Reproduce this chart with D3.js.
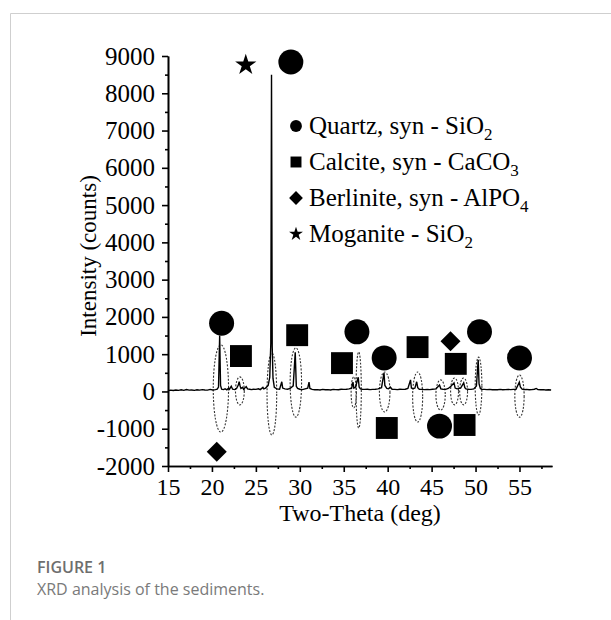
<!DOCTYPE html>
<html lang="en">
<head>
    <meta charset="UTF-8">
    <title>XRD analysis of the sediments</title>
    <script src="https://cdn.jsdelivr.net/npm/d3@7/dist/d3.min.js"></script>
    <style>
        html, body {
            margin: 0;
            background: #fff;
        }

        .axis text {
            font-family: "Liberation Serif", "Times New Roman", serif;
            fill: #000;
        }

        .axis path, .axis line {
            stroke: #000;
            stroke-width: 1.6px;
        }

        .trace {
            fill: none;
            stroke: #000;
            stroke-width: 1.4px;
        }

        .ring {
            fill: none;
            stroke: #333;
            stroke-width: 1.1px;
            stroke-dasharray: 2, 1.5;
        }
    </style>
</head>

<body>
<script>

    // diffractogram, two-theta (deg) vs counts
    var trace = [
        [15.0, 20], [15.3, 35], [15.6, 25], [15.9, 40], [16.2, 30], [16.5, 45], [16.8, 30], [17.1, 50],
        [17.4, 35], [17.7, 40], [18.0, 30], [18.3, 45], [18.6, 35], [18.9, 50], [19.2, 40], [19.5, 35],
        [19.8, 55], [20.1, 40], [20.4, 50], [20.6, 60], [20.75, 120], [20.88, 1500], [20.98, 160], [21.1, 60],
        [21.3, 50], [21.5, 70], [21.7, 45], [21.9, 90], [22.0, 60], [22.2, 140], [22.35, 60], [22.6, 50],
        [22.8, 80], [23.0, 170], [23.1, 260], [23.2, 150], [23.3, 80], [23.5, 110], [23.6, 60], [23.9, 130],
        [24.05, 70], [24.3, 60], [24.5, 50], [24.7, 60], [25.0, 55], [25.3, 70], [25.5, 50], [25.8, 110],
        [25.9, 70], [26.1, 90], [26.4, 160], [26.58, 380], [26.7, 1300], [26.78, 8500], [26.86, 1200], [26.95, 350],
        [27.1, 110], [27.4, 70], [27.7, 60], [27.95, 260], [28.05, 90], [28.3, 70], [28.6, 60], [28.9, 80],
        [29.25, 150], [29.48, 1050], [29.6, 140], [29.75, 80], [30.0, 60], [30.3, 50], [30.6, 70], [30.9, 90],
        [31.05, 250], [31.15, 80], [31.4, 55], [31.7, 45], [32.0, 50], [32.3, 40], [32.6, 55], [32.9, 45],
        [33.2, 50], [33.5, 40], [33.8, 55], [34.1, 50], [34.4, 45], [34.7, 60], [35.0, 55], [35.3, 60],
        [35.6, 70], [35.9, 90], [36.05, 250], [36.15, 90], [36.35, 120], [36.55, 300], [36.65, 380], [36.75, 120],
        [36.9, 70], [37.1, 60], [37.4, 55], [37.7, 60], [38.0, 50], [38.3, 55], [38.6, 60], [38.9, 70],
        [39.3, 100], [39.58, 500], [39.68, 160], [39.9, 80], [40.1, 70], [40.3, 120], [40.5, 60], [40.8, 55],
        [41.1, 50], [41.4, 60], [41.7, 55], [42.0, 60], [42.3, 80], [42.6, 310], [42.7, 90], [42.9, 70],
        [43.1, 90], [43.3, 260], [43.42, 100], [43.6, 60], [43.9, 55], [44.2, 50], [44.5, 55], [44.8, 50],
        [45.1, 60], [45.5, 70], [45.9, 170], [46.05, 70], [46.3, 60], [46.6, 55], [46.9, 80], [47.2, 140],
        [47.55, 230], [47.68, 90], [47.9, 70], [48.3, 90], [48.65, 230], [48.78, 100], [48.9, 70], [49.2, 60],
        [49.5, 55], [49.8, 70], [50.1, 150], [50.3, 850], [50.4, 200], [50.55, 80], [50.7, 60], [51.0, 55],
        [51.3, 50], [51.6, 55], [51.9, 45], [52.2, 50], [52.5, 45], [52.8, 55], [53.1, 45], [53.4, 50],
        [53.7, 55], [54.0, 50], [54.3, 55], [54.6, 60], [54.98, 250], [55.1, 120], [55.3, 60], [55.5, 50],
        [55.8, 55], [56.1, 45], [56.4, 50], [56.7, 60], [56.9, 80], [57.1, 50], [57.4, 45], [57.7, 50],
        [58.0, 40], [58.3, 45], [58.6, 40]
    ];

    // peak labels placed on the plot: [two-theta, counts]
    var quartzPts = [[28.98, 8840], [21.1, 1830], [36.5, 1600], [39.6, 900], [50.45, 1600], [55.0, 900], [45.9, -930]];
    var calcitePts = [[23.3, 950], [29.7, 1510], [34.8, 760], [43.4, 1190], [47.75, 740], [39.9, -980], [48.75, -900]];
    var berlinitePts = [[47.15, 1350], [20.55, -1620]];
    var moganitePts = [[23.85, 8760]];

    // dotted rings round the peaks: [centre deg, half width deg, top counts, bottom counts]
    var rings = [
        [21.02, 0.87, 1250, -1090], [23.18, 0.5, 390, -360], [26.82, 0.55, 1030, -1170],
        [29.55, 0.65, 1170, -690], [36.14, 0.3, 390, -440], [36.7, 0.3, 1060, -980],
        [39.66, 0.6, 520, -550], [43.41, 0.57, 520, -820], [46.02, 0.53, 310, -500],
        [47.61, 0.45, 360, -360], [48.64, 0.45, 360, -360], [50.34, 0.38, 920, -630],
        [55.0, 0.53, 440, -690]
    ];

    var xTicks = [15, 20, 25, 30, 35, 40, 45, 50, 55];
    var yTicks = [-2000, -1000, 0, 1000, 2000, 3000, 4000, 5000, 6000, 7000, 8000, 9000];

    var legendNames = ["Quartz, syn - SiO", "Calcite, syn - CaCO", "Berlinite, syn - AlPO", "Moganite - SiO"];
    var legendSubs = ["2", "3", "4", "2"];

    var width = 611, height = 620;

    var svg = d3.select('body').append('svg')
        .attr('width', width).attr('height', height);

    // card border
    svg.append('path')
        .attr('d', 'M10.5,' + height + 'V13.5H' + width)
        .attr('fill', 'none').attr('stroke', '#cfcfcf').attr('stroke-width', 1);

    var x = d3.scaleLinear().domain([15, 58.7]).range([168, 552]);
    var y = d3.scaleLinear().domain([-2000, 9000]).range([466, 56]);

    var plain = function (d) { return String(d); };

    // minor ticks first, then the labelled ones
    var xMinor = d3.range(17.5, 58.7, 5);
    var yMinor = d3.range(-1500, 9000, 1000);

    svg.append('g').attr('class', 'axis')
        .attr('transform', 'translate(0,' + y(-2000) + ')')
        .call(d3.axisBottom(x).tickValues(xMinor).tickSize(3).tickFormat('').tickSizeOuter(0));
    svg.append('g').attr('class', 'axis')
        .attr('transform', 'translate(' + x(15) + ',0)')
        .call(d3.axisLeft(y).tickValues(yMinor).tickSize(3).tickFormat('').tickSizeOuter(0));

    var xAxis = svg.append('g').attr('class', 'axis')
        .attr('transform', 'translate(0,' + y(-2000) + ')')
        .call(d3.axisBottom(x).tickValues(xTicks).tickFormat(plain).tickSize(6).tickPadding(6).tickSizeOuter(0));
    xAxis.selectAll('text').style('font-size', '24px');

    var yAxis = svg.append('g').attr('class', 'axis')
        .attr('transform', 'translate(' + x(15) + ',0)')
        .call(d3.axisLeft(y).tickValues(yTicks).tickFormat(plain).tickSize(6).tickPadding(7).tickSizeOuter(0));
    yAxis.selectAll('text').style('font-size', '25px');

    svg.append('text')
        .attr('x', (x(15) + x(58.7)) / 2).attr('y', 521)
        .attr('text-anchor', 'middle')
        .style('font-family', '"Liberation Serif", serif').style('font-size', '24px')
        .text('Two-Theta (deg)');

    svg.append('text')
        .attr('transform', 'translate(96,' + 256 + ') rotate(-90)')
        .attr('text-anchor', 'middle')
        .style('font-family', '"Liberation Serif", serif').style('font-size', '23px')
        .text('Intensity (counts)');

    // dotted rings
    svg.selectAll('ellipse.ring')
        .data(rings)
        .enter().append('ellipse')
        .attr('class', 'ring')
        .attr('cx', function (d) { return x(d[0]); })
        .attr('cy', function (d) { return y((d[2] + d[3]) / 2); })
        .attr('rx', function (d) { return x(d[0] + d[1]) - x(d[0]); })
        .attr('ry', function (d) { return (y(d[3]) - y(d[2])) / 2; });

    var line = d3.line()
        .x(function (d) { return x(d[0]); })
        .y(function (d) { return y(d[1]); });

    svg.append('path').attr('class', 'trace').attr('d', line(trace));

    function drawMarks(pts, type, size, rot) {
        svg.selectAll(null)
            .data(pts)
            .enter().append('path')
            .attr('d', d3.symbol().type(type).size(size))
            .attr('fill', '#000')
            .attr('transform', function (d) {
                return 'translate(' + x(d[0]) + ',' + y(d[1]) + ')' + (rot ? ' rotate(' + rot + ')' : '');
            });
    }

    drawMarks(quartzPts, d3.symbolCircle, 490);
    drawMarks(calcitePts, d3.symbolSquare, 480);
    drawMarks(berlinitePts, d3.symbolSquare, 200, 45);
    drawMarks(moganitePts, d3.symbolStar, 140);

    // legend
    var legendTypes = [d3.symbolCircle, d3.symbolSquare, d3.symbolSquare, d3.symbolStar];
    var legendSizes = [110, 120, 95, 60];
    var legendRot = [0, 0, 45, 0];
    var legendBase = [134, 170, 206, 242];

    legendNames.forEach(function (name, i) {
        svg.append('path')
            .attr('d', d3.symbol().type(legendTypes[i]).size(legendSizes[i]))
            .attr('fill', '#000')
            .attr('transform', 'translate(296,' + (legendBase[i] - 8) + ') rotate(' + legendRot[i] + ')');
        var t = svg.append('text')
            .attr('x', 309).attr('y', legendBase[i])
            .style('font-family', '"Liberation Serif", serif').style('font-size', '25px');
        t.append('tspan').text(name);
        t.append('tspan').attr('dy', 6).style('font-size', '17px').text(legendSubs[i]);
    });

    // caption
    svg.append('text')
        .attr('x', 37).attr('y', 573)
        .style('font-family', '"Open Sans", sans-serif').style('font-size', '16px')
        .style('font-weight', 600).attr('fill', '#6e6e6e')
        .text('FIGURE 1');
    svg.append('text')
        .attr('x', 37).attr('y', 595)
        .style('font-family', '"Open Sans", sans-serif').style('font-size', '16px')
        .attr('fill', '#7a7a7a')
        .text('XRD analysis of the sediments.');

</script>
</body>
</html>
